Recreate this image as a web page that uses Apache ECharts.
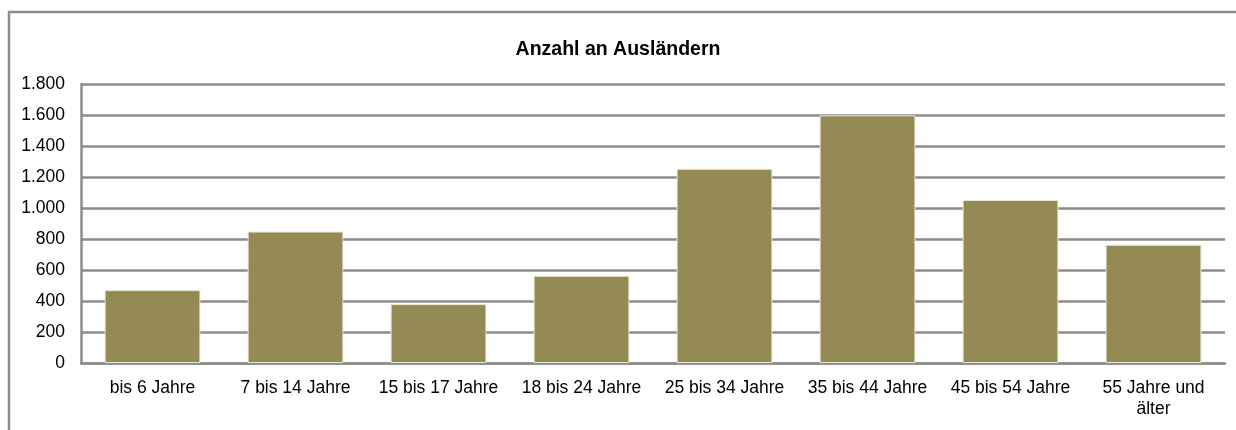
<!DOCTYPE html>
<html>
<head>
<meta charset="utf-8">
<script src="https://cdn.jsdelivr.net/npm/echarts@6/dist/echarts.min.js"></script>
<style>
html,body{margin:0;padding:0;background:#fff;}
#c{width:1236px;height:430px;}
</style>
</head>
<body>
<div id="c"></div>
<script>
const title = 'Anzahl an Ausländern';
const categories = ['bis 6 Jahre', '7 bis 14 Jahre', '15 bis 17 Jahre', '18 bis 24 Jahre', '25 bis 34 Jahre', '35 bis 44 Jahre', '45 bis 54 Jahre', '55 Jahre und älter'];
const values = [470, 848, 380, 563, 1253, 1598, 1052, 763];
const yTicks = [0, 200, 400, 600, 800, 1000, 1200, 1400, 1600, 1800];

const chart = echarts.init(document.getElementById('c'), null, {renderer: 'canvas'});
const fmt = v => String(v).replace(/\B(?=(\d{3})+(?!\d))/g, '.');
chart.setOption({
  animation: false,
  textStyle: {fontFamily: 'Liberation Sans, Arial, sans-serif'},
  graphic: [{
    type: 'polyline',
    shape: {points: [[9, 460], [9, 12], [1240, 12]]},
    style: {stroke: '#8c8c8c', lineWidth: 2.5, fill: null},
    silent: true
  }],
  title: {
    text: title,
    left: 'center',
    top: 35,
    textStyle: {fontSize: 19.5, fontWeight: 'bold', color: '#000', fontFamily: 'Liberation Sans, Arial, sans-serif'}
  },
  grid: {left: 81, right: 11, top: 84, bottom: 67, containLabel: false},
  xAxis: {
    type: 'category',
    data: categories,
    axisLine: {lineStyle: {color: '#8c8c8c', width: 2.5}},
    axisTick: {show: false},
    axisLabel: {
      color: '#000', fontSize: 17.5, margin: 15, lineHeight: 21, interval: 0,
      formatter: v => v.replace(' und ', ' und\n')
    }
  },
  yAxis: {
    type: 'value',
    min: yTicks[0],
    max: yTicks[yTicks.length - 1],
    interval: 200,
    axisLine: {show: true, lineStyle: {color: '#8c8c8c', width: 2.5}},
    axisTick: {show: false},
    splitLine: {lineStyle: {color: '#8c8c8c', width: 2.5}},
    axisLabel: {color: '#000', fontSize: 17.5, margin: 16, formatter: v => fmt(v)}
  },
  series: [{
    type: 'bar',
    data: values,
    barWidth: '67%',
    itemStyle: {color: '#948A54', borderColor: '#e9e7d6', borderWidth: 1}
  }]
});
</script>
</body>
</html>
